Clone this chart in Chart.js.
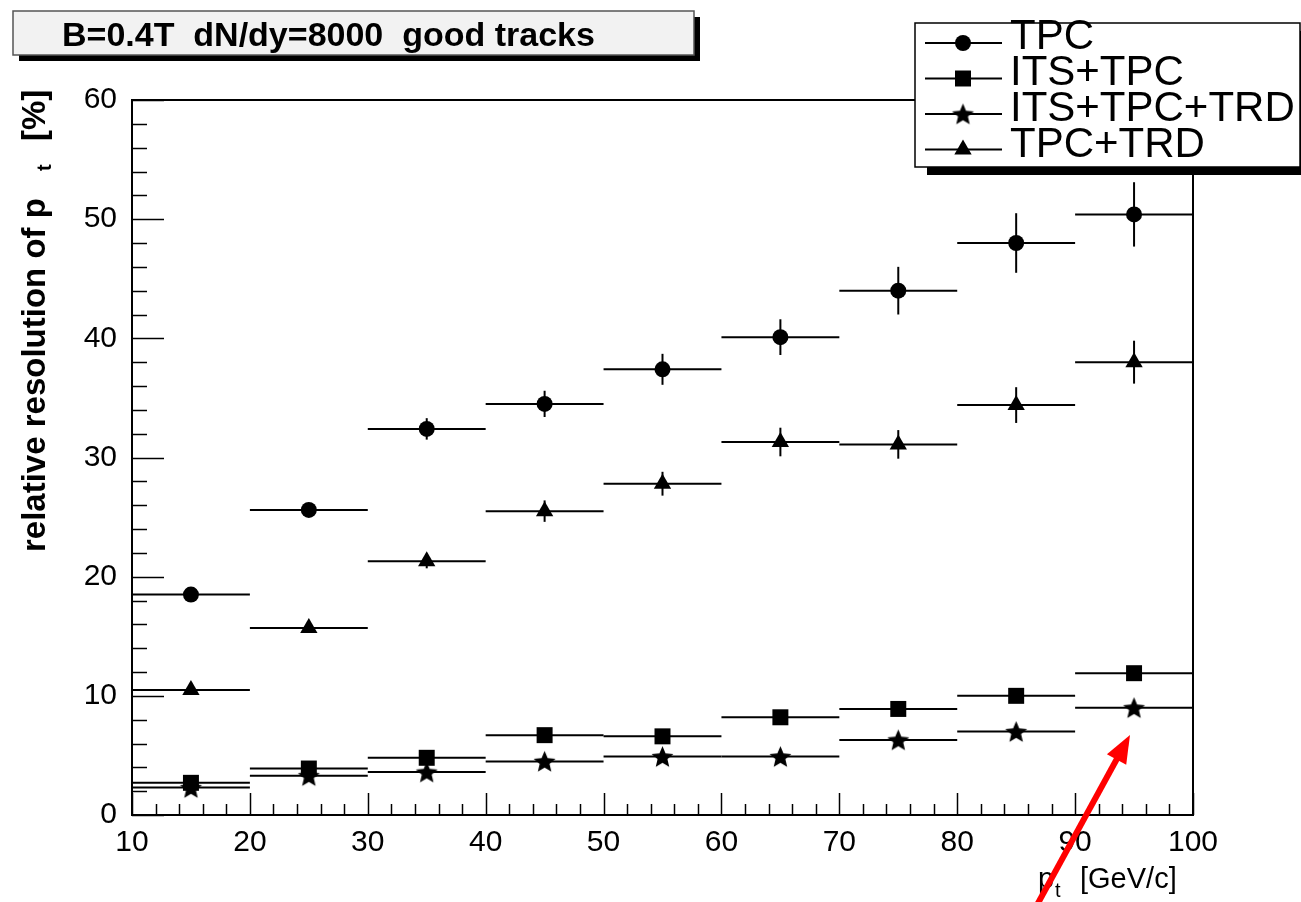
<!DOCTYPE html>
<html>
<head>
<meta charset="utf-8">
<script src="https://cdn.jsdelivr.net/npm/chart.js@4.4.1/dist/chart.umd.min.js"></script>
<style>
  body { margin: 0; background: #fff; }
  canvas { display: block; }
</style>
</head>
<body>
<canvas id="mychart" width="1301" height="902"></canvas>
<script>
// bin centers (pt, GeV/c), each bin is 10 wide
const ptBins = [15, 25, 35, 45, 55, 65, 75, 85, 95];
const binHalfWidth = 5;
const xTicks = [10, 20, 30, 40, 50, 60, 70, 80, 90, 100];
const yTicks = [0, 10, 20, 30, 40, 50, 60];

const seriesNames = ['TPC', 'ITS+TPC', 'ITS+TPC+TRD', 'TPC+TRD'];

// relative pt resolution [%] and its error
const tpc = [18.5, 25.6, 32.4, 34.5, 37.4, 40.1, 44.0, 48.0, 50.4];
const tpcErr = [0.3, 0.4, 0.9, 1.1, 1.3, 1.5, 2.0, 2.5, 2.7];
const itsTpc = [2.7, 3.9, 4.8, 6.7, 6.6, 8.2, 8.9, 10.0, 11.9];
const itsTpcErr = [0.15, 0.2, 0.2, 0.3, 0.3, 0.3, 0.35, 0.4, 0.5];
const itsTpcTrd = [2.3, 3.3, 3.6, 4.5, 4.9, 4.9, 6.3, 7.0, 9.0];
const itsTpcTrdErr = [0.1, 0.15, 0.15, 0.2, 0.2, 0.2, 0.25, 0.3, 0.35];
const tpcTrd = [10.5, 15.7, 21.3, 25.5, 27.8, 31.3, 31.1, 34.4, 38.0];
const tpcTrdErr = [0.3, 0.4, 0.6, 0.9, 1.0, 1.2, 1.2, 1.5, 1.8];

const FONT = '"Liberation Sans", Arial, Helvetica, sans-serif';

//filled star, chart.js' own star is only strokes
function makeStar(r) {
    const size = Math.ceil(r * 2) + 2;
    const c = document.createElement('canvas');
    c.width = size;
    c.height = size;
    const g = c.getContext('2d');
    g.translate(size / 2, size / 2 + 1);
    g.beginPath();
    for (let i = 0; i < 10; i++) {
        const rad = i % 2 === 0 ? r : r * 0.45;
        const ang = -Math.PI / 2 + i * Math.PI / 5;
        g.lineTo(Math.cos(ang) * rad, Math.sin(ang) * rad);
    }
    g.closePath();
    g.fillStyle = '#000';
    g.fill();
    return c;
}
const starImg = makeStar(11.5);

const markers = [
    { pointStyle: 'circle', radius: 8 },
    { pointStyle: 'rect', radius: 11.3 },
    { pointStyle: starImg, radius: 11.5 },
    { pointStyle: 'triangle', radius: 10 }
];
const values = [tpc, itsTpc, itsTpcTrd, tpcTrd];
const errors = [tpcErr, itsTpcErr, itsTpcTrdErr, tpcTrdErr];

const datasets = seriesNames.map((name, i) => ({
    label: name,
    data: ptBins.map((x, j) => ({ x: x, y: values[i][j] })),
    yErr: errors[i],
    showLine: false,
    pointStyle: markers[i].pointStyle,
    pointRadius: markers[i].radius,
    pointBorderWidth: 0,
    backgroundColor: '#000',
    borderColor: '#000'
}));

function line(ctx, x1, y1, x2, y2) {
    ctx.beginPath();
    ctx.moveTo(x1, y1);
    ctx.lineTo(x2, y2);
    ctx.stroke();
}

// error bars under the markers
const errorBars = {
    id: 'errorBars',
    beforeDatasetsDraw(chart) {
        const { ctx, scales: { x, y } } = chart;
        ctx.save();
        ctx.strokeStyle = '#000';
        ctx.lineWidth = 2;
        chart.data.datasets.forEach(ds => {
            ds.data.forEach((p, j) => {
                const py = y.getPixelForValue(p.y);
                const px = x.getPixelForValue(p.x);
                line(ctx, x.getPixelForValue(p.x - binHalfWidth), py, x.getPixelForValue(p.x + binHalfWidth), py);
                const e = ds.yErr[j];
                line(ctx, px, y.getPixelForValue(p.y - e), px, y.getPixelForValue(p.y + e));
            });
        });
        ctx.restore();
    }
};

// frame, inside ticks, boxes, axis titles, arrow
const decorations = {
    id: 'decorations',
    afterDraw(chart) {
        const { ctx, chartArea: a, scales: { x, y } } = chart;
        ctx.save();
        ctx.strokeStyle = '#000';
        ctx.fillStyle = '#000';

        // ticks pointing inward
        ctx.lineWidth = 1.5;
        for (let v = y.min; v <= y.max; v += 2) {
            const py = Math.round(y.getPixelForValue(v)) + 0.5;
            line(ctx, a.left, py, a.left + (v % 10 === 0 ? 32 : 15), py);
        }
        for (let v = x.min; v <= x.max; v += 2) {
            const px = Math.round(x.getPixelForValue(v)) + 0.5;
            line(ctx, px, a.bottom, px, a.bottom - (v % 10 === 0 ? 22 : 11));
        }

        // frame
        ctx.lineWidth = 2;
        ctx.strokeRect(a.left, a.top, a.right - a.left, a.bottom - a.top);

        // title box
        ctx.fillStyle = '#000';
        ctx.fillRect(19, 17, 681, 44);
        ctx.fillStyle = '#f2f2f2';
        ctx.fillRect(13, 11, 681, 44);
        ctx.strokeStyle = '#555';
        ctx.lineWidth = 1.5;
        ctx.strokeRect(13, 11, 681, 44);
        ctx.fillStyle = '#000';
        ctx.font = 'bold 34px ' + FONT;
        ctx.textAlign = 'left';
        ctx.textBaseline = 'alphabetic';
        ctx.fillText('B=0.4T  dN/dy=8000  good tracks', 62, 46);

        // legend box
        ctx.fillStyle = '#000';
        ctx.fillRect(927, 31, 380, 144);
        ctx.fillStyle = '#fff';
        ctx.fillRect(915, 23, 385, 144);
        ctx.strokeStyle = '#000';
        ctx.lineWidth = 1.5;
        ctx.strokeRect(915, 23, 385, 144);
        ctx.font = '42px ' + FONT;
        chart.data.datasets.forEach((ds, i) => {
            const cy = 43 + 35.5 * i;
            ctx.lineWidth = 2;
            ctx.strokeStyle = '#000';
            line(ctx, 925, cy, 1002, cy);
            ctx.fillStyle = '#000';
            Chart.helpers.drawPoint(ctx, {
                pointStyle: ds.pointStyle,
                radius: ds.pointRadius,
                rotation: 0,
                borderWidth: 0
            }, 963, cy);
            ctx.fillText(ds.label, 1010, 49 + 36 * i);
        });

        // y axis title
        ctx.save();
        ctx.translate(45, 552);
        ctx.rotate(-Math.PI / 2);
        ctx.font = 'bold 33px ' + FONT;
        ctx.fillText('relative resolution of p', 0, 0);
        ctx.font = 'bold 20px ' + FONT;
        ctx.fillText('t', 381, 6);
        ctx.font = 'bold 33px ' + FONT;
        ctx.fillText('[%]', 411, 0);
        ctx.restore();

        // x axis title
        ctx.font = '29px ' + FONT;
        ctx.fillText('p', 1038, 888);
        ctx.font = '20px ' + FONT;
        ctx.fillText('t', 1055, 897);
        ctx.font = '29px ' + FONT;
        ctx.fillText('[GeV/c]', 1080, 888);

        // red arrow
        const tip = [1130, 735], tail = [1037, 905];
        const dx = tip[0] - tail[0], dy = tip[1] - tail[1];
        const len = Math.hypot(dx, dy);
        const ux = dx / len, uy = dy / len;
        const hl = 28, hw = 11;
        const bx = tip[0] - ux * hl, by = tip[1] - uy * hl;
        ctx.strokeStyle = '#ff0000';
        ctx.fillStyle = '#ff0000';
        ctx.lineWidth = 6;
        line(ctx, tail[0], tail[1], bx + ux * 2, by + uy * 2);
        ctx.beginPath();
        ctx.moveTo(tip[0], tip[1]);
        ctx.lineTo(bx - uy * hw, by + ux * hw);
        ctx.lineTo(bx + uy * hw, by - ux * hw);
        ctx.closePath();
        ctx.fill();

        ctx.restore();
    }
};

const ctx = document.getElementById('mychart');
const mychart = new Chart(ctx, {
    type: 'scatter',
    data: { datasets: datasets },
    options: {
        responsive: false,
        animation: false,
        devicePixelRatio: 1,
        events: [],
        layout: { padding: { top: 100, right: 108, left: 0, bottom: 0 } },
        plugins: {
            legend: { display: false },
            tooltip: { enabled: false }
        },
        scales: {
            x: {
                type: 'linear',
                min: 10,
                max: 100,
                afterFit: s => { s.height = 87; },
                afterBuildTicks: s => { s.ticks = xTicks.map(v => ({ value: v })); },
                grid: { display: false },
                border: { display: false },
                ticks: {
                    color: '#000',
                    font: { family: FONT, size: 30 },
                    padding: 2,
                    maxRotation: 0,
                    autoSkip: false
                }
            },
            y: {
                type: 'linear',
                min: 0,
                max: 60,
                afterFit: s => { s.width = 132; },
                afterBuildTicks: s => { s.ticks = yTicks.map(v => ({ value: v })); },
                grid: { display: false },
                border: { display: false },
                ticks: {
                    color: '#000',
                    font: { family: FONT, size: 30 },
                    padding: 7,
                    autoSkip: false
                }
            }
        }
    },
    plugins: [errorBars, decorations]
});
</script>
</body>
</html>
